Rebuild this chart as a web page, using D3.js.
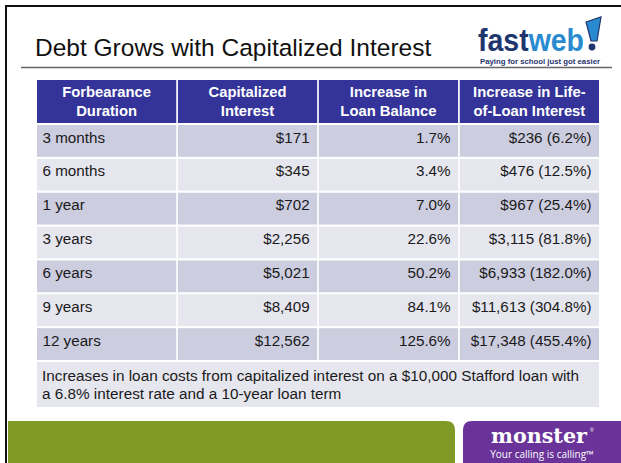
<!DOCTYPE html>
<html>
<head>
<meta charset="utf-8">
<script src="https://cdn.jsdelivr.net/npm/d3@7"></script>
<style>
  body { margin: 0; background: #fff; }
  svg { display: block; font-family: "Liberation Sans", Arial, sans-serif; }
</style>
</head>
<body>
<div id="slide"></div>
<script>
// table data
var durations = ["3 months", "6 months", "1 year", "3 years", "6 years", "9 years", "12 years"];
var capInterest = [171, 345, 702, 2256, 5021, 8409, 12562];
var balanceIncrease = [1.7, 3.4, 7.0, 22.6, 50.2, 84.1, 125.6];
var lifeInterest = [236, 476, 967, 3115, 6933, 11613, 17348];
var lifePct = [6.2, 12.5, 25.4, 81.8, 182.0, 304.8, 455.4];
var headers = [
  ["Forbearance", "Duration"],
  ["Capitalized", "Interest"],
  ["Increase in", "Loan Balance"],
  ["Increase in Life-", "of-Loan Interest"]
];
var title = "Debt Grows with Capitalized Interest";
var note = [
  "Increases in loan costs from capitalized interest on a $10,000 Stafford loan with",
  "a 6.8% interest rate and a 10-year loan term"
];

var svgWidth = 621;
var svgHeight = 463;

var svg = d3.select("#slide")
  .append("svg")
  .attr("width", svgWidth)
  .attr("height", svgHeight);

svg.append("rect")
  .attr("width", svgWidth)
  .attr("height", svgHeight)
  .attr("fill", "#fff");

// black frame (runs off right + bottom)
svg.append("rect")
  .attr("x", 6)
  .attr("y", 6)
  .attr("width", 700)
  .attr("height", 600)
  .attr("fill", "none")
  .attr("stroke", "#111")
  .attr("stroke-width", 2);

// title
svg.append("text")
  .attr("x", 35)
  .attr("y", 56)
  .attr("font-size", 24.5)
  .attr("fill", "#111")
  .text(title);

// rule under title
svg.append("line")
  .attr("x1", 21).attr("x2", 612)
  .attr("y1", 67.5).attr("y2", 67.5)
  .attr("stroke", "#666")
  .attr("stroke-width", 1.5);

// fastweb logo - one word, two colours via a hard-stop gradient
var grad = svg.append("defs").append("linearGradient")
  .attr("id", "fwcol")
  .attr("gradientUnits", "userSpaceOnUse")
  .attr("x1", 478).attr("x2", 584)
  .attr("y1", 0).attr("y2", 0);
grad.append("stop").attr("offset", 0.475).attr("stop-color", "#1f356e");
grad.append("stop").attr("offset", 0.475).attr("stop-color", "#2a8ad0");

var logo = svg.append("g");
logo.append("text")
  .attr("x", 478)
  .attr("y", 51)
  .attr("font-size", 32)
  .attr("font-weight", "bold")
  .attr("fill", "url(#fwcol)")
  .attr("textLength", 106)
  .attr("lengthAdjust", "spacingAndGlyphs")
  .text("fastweb");
logo.append("path")
  .attr("d", "M586,22 L601,17 L597,41 L591,41 Z")
  .attr("fill", "#2a8ad0")
  .attr("stroke", "#1f356e")
  .attr("stroke-width", 1.2);
logo.append("circle")
  .attr("cx", 592).attr("cy", 47).attr("r", 3.4)
  .attr("fill", "#1f356e");
logo.append("text")
  .attr("x", 480)
  .attr("y", 64)
  .attr("font-size", 7.8)
  .attr("font-weight", "bold")
  .attr("fill", "#1f356e")
  .attr("textLength", 120)
  .attr("lengthAdjust", "spacingAndGlyphs")
  .text("Paying for school just got easier");

// scales
var colScale = d3.scaleBand()
  .domain(d3.range(headers.length))
  .range([37, 599])
  .paddingInner(0.012);

var rowScale = d3.scaleBand()
  .domain(durations)
  .range([124, 361])
  .paddingInner(0.06)
  .paddingOuter(0.03);

var money = d3.format("$,");
var pct = d3.format(".1f");

var rows = durations.map(function(d, i) {
  return {
    key: d,
    cells: [
      d,
      money(capInterest[i]),
      pct(balanceIncrease[i]) + "%",
      money(lifeInterest[i]) + " (" + pct(lifePct[i]) + "%)"
    ]
  };
});

// header row
var head = svg.append("g");
head.selectAll("rect")
  .data(headers)
  .enter()
  .append("rect")
  .attr("x", (d, i) => colScale(i))
  .attr("y", 80)
  .attr("width", colScale.bandwidth())
  .attr("height", 43)
  .attr("fill", "#333399");

head.selectAll("text")
  .data(headers)
  .enter()
  .append("text")
  .attr("x", (d, i) => colScale(i) + colScale.bandwidth() / 2)
  .attr("y", 97)
  .attr("text-anchor", "middle")
  .attr("font-size", 14.8)
  .attr("font-weight", "bold")
  .attr("fill", "#fff")
  .each(function(d) {
    d3.select(this).selectAll("tspan")
      .data(d)
      .enter()
      .append("tspan")
      .attr("x", d3.select(this).attr("x"))
      .attr("dy", (t, j) => j === 0 ? 0 : 19)
      .text(t => t);
  });

// body rows
var rowGroup = svg.selectAll(".row")
  .data(rows)
  .enter()
  .append("g")
  .attr("class", "row")
  .attr("transform", d => `translate(0, ${rowScale(d.key)})`);

rowGroup.selectAll("rect")
  .data((d, i) => d.cells.map(c => ({ text: c, odd: i % 2 === 0 })))
  .enter()
  .append("rect")
  .attr("x", (d, j) => colScale(j))
  .attr("width", colScale.bandwidth())
  .attr("height", rowScale.bandwidth())
  .attr("fill", d => d.odd ? "#cdcde0" : "#e6e6ef");

rowGroup.selectAll("text")
  .data(d => d.cells)
  .enter()
  .append("text")
  .attr("x", (d, j) => j === 0 ? colScale(j) + 5.5 : colScale(j) + colScale.bandwidth() - 7.5)
  .attr("y", 17.5)
  .attr("text-anchor", (d, j) => j === 0 ? "start" : "end")
  .attr("font-size", 15.2)
  .attr("fill", "#1a1a1a")
  .text(d => d);

// footnote row
svg.append("rect")
  .attr("x", colScale(0))
  .attr("y", 362)
  .attr("width", colScale(3) + colScale.bandwidth() - colScale(0))
  .attr("height", 45)
  .attr("fill", "#e6e6ef");

svg.append("g").selectAll("text")
  .data(note)
  .enter()
  .append("text")
  .attr("x", 42)
  .attr("y", (d, i) => 381 + i * 18)
  .attr("font-size", 15.3)
  .attr("fill", "#1a1a1a")
  .text(d => d);

// bottom bands
svg.append("path")
  .attr("d", "M8,421 H446 Q455,421 455,430 V463 H8 Z")
  .attr("fill", "#809a26");

svg.append("path")
  .attr("d", "M463,463 V430 Q463,421 472,421 H621 V463 Z")
  .attr("fill", "#693399");

svg.append("text")
  .attr("x", 539)
  .attr("y", 443)
  .attr("text-anchor", "middle")
  .attr("font-family", "DejaVu Serif, serif")
  .attr("font-weight", "bold")
  .attr("font-size", 20)
  .attr("fill", "#fff")
  .attr("textLength", 96)
  .attr("lengthAdjust", "spacingAndGlyphs")
  .text("monster");
svg.append("text")
  .attr("x", 590).attr("y", 432)
  .attr("font-size", 5).attr("fill", "#fff")
  .text("®");

svg.append("text")
  .attr("x", 542)
  .attr("y", 458)
  .attr("text-anchor", "middle")
  .attr("font-family", "Open Sans, sans-serif")
  .attr("font-size", 10)
  .attr("fill", "#fff")
  .text("Your calling is calling\u2122");
</script>
</body>
</html>
